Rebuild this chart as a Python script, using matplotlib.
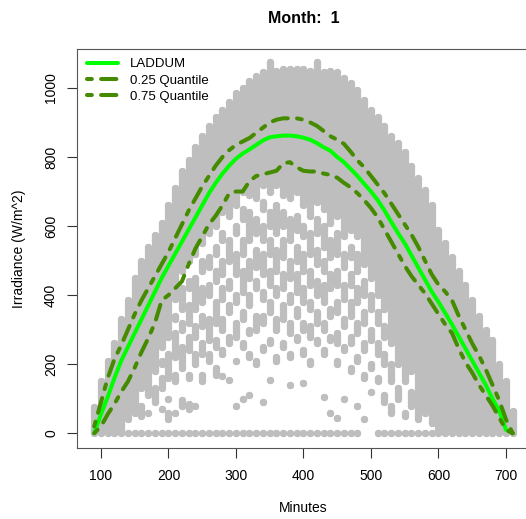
import matplotlib
matplotlib.use("Agg")
import matplotlib.pyplot as plt

plt.rcParams["font.family"] = ["Liberation Sans", "DejaVu Sans"]

# minutes of the day (one column of observations every 10 minutes)
minutes = list(range(90, 711, 10))

laddum = [0, 55, 105, 160, 210, 250, 290, 330, 370, 410, 450, 485, 520, 555, 590,
          625, 660, 695, 725, 752, 775, 795, 810, 822, 835, 848, 857, 860, 862, 862,
          860, 856, 850, 840, 828, 818, 800, 785, 765, 745, 722, 700, 675, 645, 612,
          580, 550, 515, 480, 445, 410, 380, 348, 315, 280, 245, 210, 175, 140, 100,
          65, 10, 0]

q25 = [0, 20, 55, 85, 120, 150, 190, 235, 275, 320, 385, 400, 420, 440, 490,
       535, 570, 605, 630, 660, 695, 700, 700, 730, 745, 750, 755, 760, 782, 785,
       770, 760, 758, 758, 752, 748, 740, 725, 712, 695, 675, 652, 625, 590, 555,
       520, 485, 455, 430, 405, 375, 345, 315, 290, 245, 205, 175, 140, 110, 80,
       45, 10, 0]

q75 = [20, 90, 160, 215, 255, 300, 345, 385, 420, 455, 490, 525, 565, 605, 645,
       680, 715, 745, 775, 800, 820, 835, 845, 855, 870, 885, 900, 908, 912, 912,
       912, 908, 900, 890, 875, 860, 850, 838, 815, 790, 770, 745, 720, 695, 665,
       635, 605, 575, 540, 500, 460, 430, 410, 385, 340, 300, 260, 225, 185, 140,
       95, 40, 0]

# observed irradiance in each column, as stacked runs (low, high) of points
obs_runs = [
    [(0, 75)],
    [(0, 150)],
    [(0, 210)],
    [(0, 260)],
    [(0, 330)],
    [(0, 0), (40, 385)],
    [(0, 0), (60, 450)],
    [(0, 0), (50, 80), (130, 500)],
    [(0, 0), (60, 60), (110, 540)],
    [(0, 0), (90, 130), (180, 575)],
    [(0, 0), (70, 70), (130, 160), (200, 210), (250, 610)],
    [(0, 0), (40, 60), (100, 100), (160, 230), (280, 660)],
    [(0, 0), (60, 60), (150, 170), (220, 290), (330, 340), (390, 710)],
    [(0, 0), (80, 95), (190, 250), (300, 320), (360, 420), (470, 760)],
    [(0, 0), (70, 85), (160, 170), (240, 280), (320, 370), (420, 440), (500, 790)],
    [(0, 0), (80, 80), (200, 230), (280, 310), (360, 450), (520, 830)],
    [(0, 0), (150, 170), (230, 260), (310, 340), (380, 420), (470, 500), (550, 860)],
    [(0, 0), (210, 230), (270, 330), (400, 430), (480, 510), (580, 890)],
    [(0, 0), (170, 190), (250, 270), (320, 380), (440, 470), (520, 540), (600, 915)],
    [(0, 0), (165, 165), (230, 240), (300, 330), (390, 420), (460, 500), (560, 580),
     (640, 935)],
    [(0, 0), (155, 155), (260, 280), (350, 370), (420, 440), (500, 560), (630, 960)],
    [(0, 0), (80, 80), (210, 210), (280, 320), (380, 400), (460, 520), (580, 600),
     (660, 985)],
    [(0, 0), (100, 100), (250, 260), (330, 350), (410, 470), (520, 560), (620, 650),
     (700, 1000)],
    [(0, 0), (110, 110), (220, 230), (290, 300), (370, 400), (450, 500), (560, 640),
     (690, 1020)],
    [(0, 0), (200, 210), (300, 340), (420, 440), (480, 530), (580, 620), (680, 1035)],
    [(0, 0), (90, 90), (240, 250), (320, 340), (390, 410), (460, 520), (560, 600),
     (650, 670), (720, 1045)],
    [(0, 0), (155, 155), (260, 270), (350, 380), (430, 470), (520, 560), (600, 640),
     (700, 1075)],
    [(0, 0), (210, 220), (300, 330), (400, 420), (470, 530), (580, 660), (720, 1050)],
    [(0, 0), (250, 260), (330, 370), (420, 460), (510, 560), (600, 640), (690, 1055)],
    [(0, 0), (140, 140), (220, 230), (290, 320), (380, 400), (450, 500), (560, 620),
     (680, 1055)],
    [(0, 0), (270, 280), (340, 360), (410, 460), (500, 540), (590, 630), (700, 1055)],
    [(0, 0), (145, 145), (230, 240), (300, 320), (380, 420), (470, 520), (570, 600),
     (660, 1055)],
    [(0, 0), (200, 210), (280, 310), (360, 380), (430, 470), (520, 580), (630, 1050)],
    [(0, 0), (260, 270), (320, 350), (400, 440), (490, 530), (580, 620), (670, 1075)],
    [(0, 0), (106, 106), (230, 240), (300, 320), (380, 430), (470, 500), (540, 600),
     (650, 1045)],
    [(0, 0), (58, 58), (270, 280), (340, 360), (420, 460), (510, 560), (610, 1050)],
    [(0, 0), (43, 43), (200, 210), (260, 290), (350, 380), (430, 470), (520, 580),
     (630, 1045)],
    [(0, 0), (100, 100), (240, 250), (310, 330), (390, 430), (480, 520), (570, 1030)],
    [(0, 0), (180, 190), (260, 280), (340, 380), (430, 460), (510, 540), (590, 1015)],
    [(0, 0), (78, 78), (210, 220), (290, 320), (380, 420), (470, 520), (570, 995)],
    [(40, 40), (160, 170), (240, 260), (320, 350), (400, 440), (490, 965)],
    [(120, 120), (190, 200), (270, 300), (360, 400), (450, 935)],
    [(0, 0), (150, 160), (230, 260), (320, 350), (400, 915)],
    [(0, 0), (90, 110), (200, 230), (280, 310), (360, 890)],
    [(0, 0), (60, 80), (150, 200), (260, 860)],
    [(0, 0), (100, 130), (200, 840)],
    [(0, 0), (50, 60), (150, 815)],
    [(0, 0), (80, 120), (180, 775)],
    [(0, 0), (40, 740)],
    [(0, 0), (60, 705)],
    [(0, 0), (30, 660)],
    [(0, 590)],
    [(0, 550)],
    [(0, 510)],
    [(0, 470)],
    [(0, 430)],
    [(0, 385)],
    [(0, 340)],
    [(0, 300)],
    [(0, 270)],
    [(0, 200)],
    [(0, 150)],
    [(0, 65)],
]

gray = "#bebebe"
dark_green = "#458b00"

fig = plt.figure(figsize=(5.26, 5.19), dpi=100)
ax = fig.add_axes([0.1473, 0.1368, 0.8593, 0.7688])

xs, lo, hi = [], [], []
for m, runs in zip(minutes, obs_runs):
    for a, b in runs:
        xs.append(m)
        lo.append(a)
        hi.append(b)

ax.vlines(xs, lo, hi, colors=gray, linewidth=5.2, capstyle="round", zorder=1)
ax.scatter(xs + xs, lo + hi, s=27, color=gray, linewidths=0, zorder=1)

dotdash = (0, (1.2, 2.3, 3.8, 2.3))
ax.plot(minutes, laddum, color="#00ff00", lw=2.9, solid_capstyle="round",
        label="LADDUM", zorder=3)
ax.plot(minutes, q25, color=dark_green, lw=2.9, linestyle=dotdash,
        dash_capstyle="round", label="0.25 Quantile", zorder=3)
ax.plot(minutes, q75, color=dark_green, lw=2.9, linestyle=dotdash,
        dash_capstyle="round", label="0.75 Quantile", zorder=3)

ax.set_xlim(65.2, 734.8)
ax.set_ylim(-42.8, 1112.8)
ax.set_xticks(range(100, 701, 100))
ax.set_yticks(range(0, 1001, 200))
ax.tick_params(labelsize=10, length=7, width=0.8, color="#333333")
ax.tick_params(axis="x", pad=8)
ax.tick_params(axis="y", pad=7)
for lab in ax.get_yticklabels():
    lab.set_rotation(90)
    lab.set_va("center")
for sp in ax.spines.values():
    sp.set_color("#555555")
    sp.set_linewidth(0.8)

ax.set_xlabel("Minutes", fontsize=10, labelpad=13)
ax.set_ylabel("Irradiance (W/m^2)", fontsize=10, labelpad=13)
ax.set_title("Month:  1", fontsize=11.5, fontweight="bold", pad=19)

ax.legend(loc="upper left", frameon=False, fontsize=9.5, handlelength=2.4,
          handletextpad=0.9, labelspacing=0.3, borderaxespad=0.3)

fig.savefig("out.png", dpi=100)
